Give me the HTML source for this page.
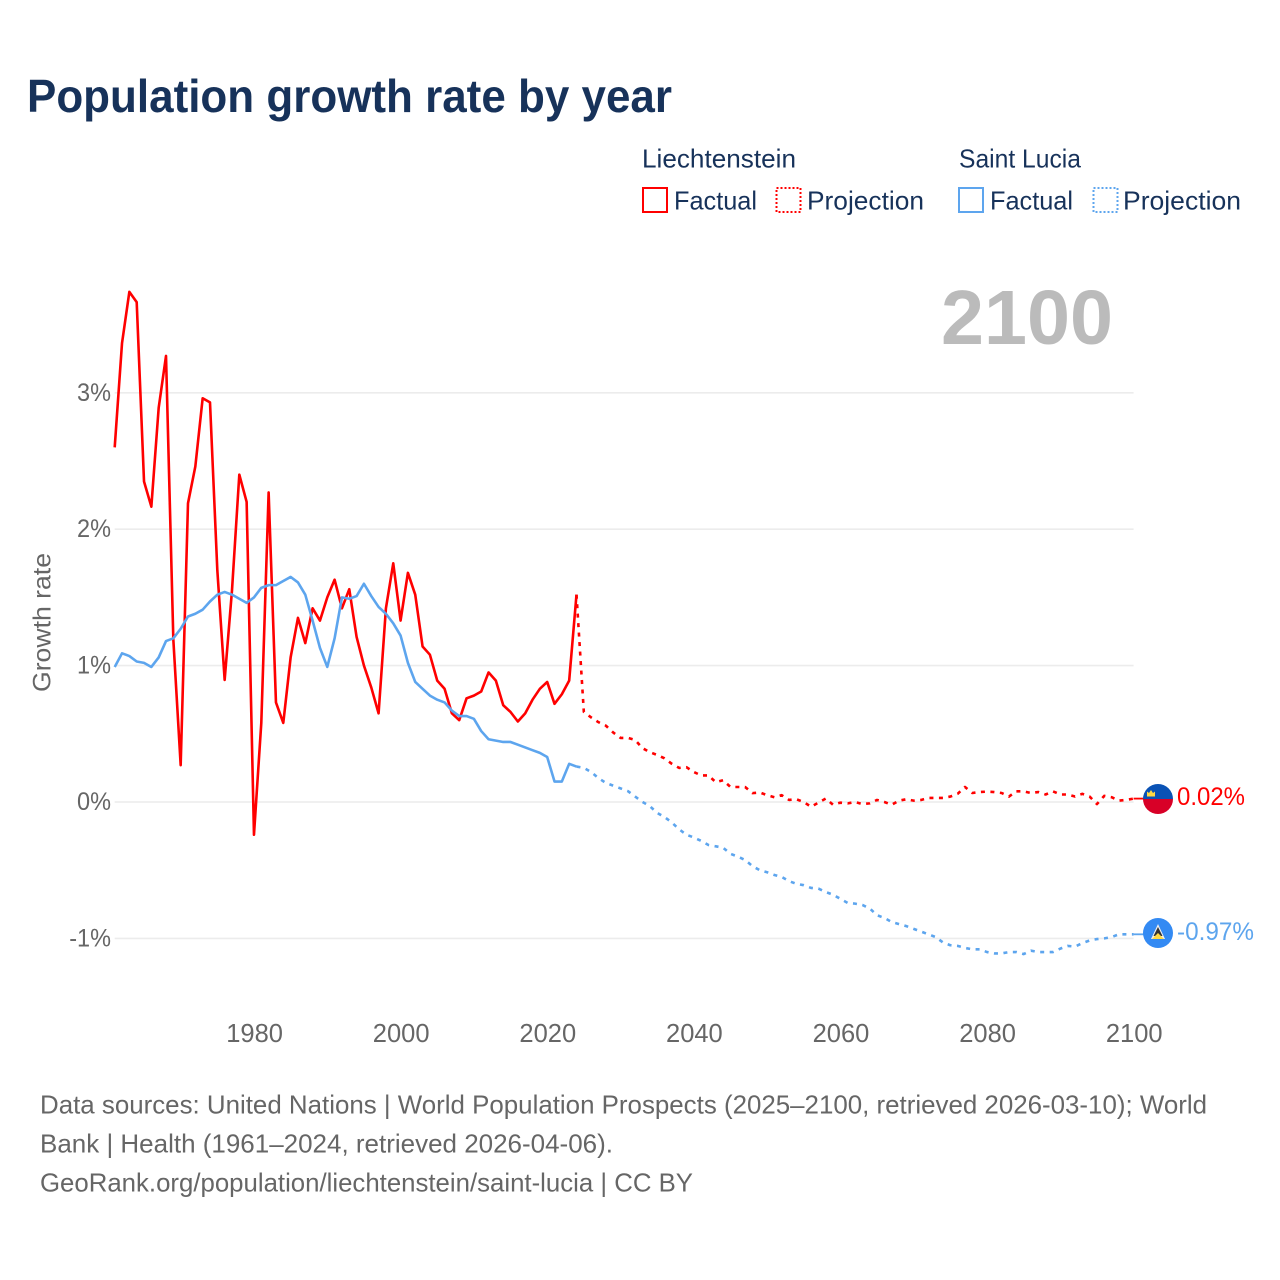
<!DOCTYPE html>
<html lang="en">
<head>
<meta charset="utf-8">
<title>Population growth rate by year</title>
<style>
html,body{margin:0;padding:0;background:#fff;}
svg{display:block;}
text{font-family:"Liberation Sans",sans-serif;}
</style>
</head>
<body>
<svg id="chart" width="1280" height="1280" viewBox="0 0 1280 1280" xmlns="http://www.w3.org/2000/svg">
  <rect x="0" y="0" width="1280" height="1280" fill="#ffffff"/>
  <text x="27" y="112" font-size="46" font-weight="700" fill="#17325a" textLength="645" lengthAdjust="spacingAndGlyphs">Population growth rate by year</text>

  <g font-size="26" fill="#17325a">
    <text x="642" y="167.500" textLength="154" lengthAdjust="spacingAndGlyphs">Liechtenstein</text>
    <text x="959" y="167.500" textLength="122" lengthAdjust="spacingAndGlyphs">Saint Lucia</text>
    <rect x="643" y="188" width="24" height="24" fill="none" stroke="#ff0000" stroke-width="2"/>
    <text x="674" y="209.500" textLength="83" lengthAdjust="spacingAndGlyphs">Factual</text>
    <rect x="776.500" y="188" width="24" height="24" fill="none" stroke="#ff0000" stroke-width="2" stroke-dasharray="2 2"/>
    <text x="807" y="209.500" textLength="117" lengthAdjust="spacingAndGlyphs">Projection</text>
    <rect x="959" y="188" width="24" height="24" fill="none" stroke="#5da5ee" stroke-width="2"/>
    <text x="990" y="209.500" textLength="83" lengthAdjust="spacingAndGlyphs">Factual</text>
    <rect x="1093.500" y="188" width="24" height="24" fill="none" stroke="#5da5ee" stroke-width="2" stroke-dasharray="2 2"/>
    <text x="1123" y="209.500" textLength="118" lengthAdjust="spacingAndGlyphs">Projection</text>
  </g>

  <text x="941" y="344" font-size="77" font-weight="700" fill="#bbbbbb" textLength="172" lengthAdjust="spacingAndGlyphs">2100</text>

  <g id="grid"></g>
  <g id="yticks"></g>
  <g id="xticks"></g>
  <text transform="translate(50.500,622.500) rotate(-90)" text-anchor="middle" font-size="25" fill="#666666" textLength="139" lengthAdjust="spacingAndGlyphs">Growth rate</text>

  <g id="series"></g>

  <g>
    <path d="M1143 799a15 15 0 0 1 30 0z" fill="#0a52b5"/>
    <path d="M1143 799a15 15 0 0 0 30 0z" fill="#d80027"/>
    <path d="M1147 796.500v-5l2 1.500 2-3 2 3 2-1.500v5z" fill="#ffda44"/>
  </g>
  <g>
    <circle cx="1158" cy="933" r="15" fill="#338af3"/>
    <path d="M1158 924l7 15h-14z" fill="#f0f0f0"/>
    <path d="M1158 927l4.500 9h-9z" fill="#333333"/>
    <path d="M1158 933l6 6h-12z" fill="#ffda44"/>
  </g>
  <text id="label-a" x="1177" y="805" font-size="25" fill="#ff0000" textLength="68" lengthAdjust="spacingAndGlyphs"></text>
  <text id="label-b" x="1177" y="940" font-size="25" fill="#5da5ee" textLength="77" lengthAdjust="spacingAndGlyphs"></text>

  <g font-size="26" fill="#666666">
    <text x="40" y="1113.500" textLength="1167" lengthAdjust="spacingAndGlyphs">Data sources: United Nations | World Population Prospects (2025–2100, retrieved 2026-03-10); World</text>
    <text x="40" y="1152.500" textLength="573" lengthAdjust="spacingAndGlyphs">Bank | Health (1961–2024, retrieved 2026-04-06).</text>
    <text x="40" y="1191.500" textLength="653" lengthAdjust="spacingAndGlyphs">GeoRank.org/population/liechtenstein/saint-lucia | CC BY</text>
  </g>
</svg>
<script>
const factualYears = [1961,1962,1963,1964,1965,1966,1967,1968,1969,1970,1971,1972,1973,1974,1975,1976,1977,1978,1979,1980,1981,1982,1983,1984,1985,1986,1987,1988,1989,1990,1991,1992,1993,1994,1995,1996,1997,1998,1999,2000,2001,2002,2003,2004,2005,2006,2007,2008,2009,2010,2011,2012,2013,2014,2015,2016,2017,2018,2019,2020,2021,2022,2023,2024];
const projectionYears = [2024,2025,2026,2027,2028,2029,2030,2031,2032,2033,2034,2035,2036,2037,2038,2039,2040,2041,2042,2043,2044,2045,2046,2047,2048,2049,2050,2051,2052,2053,2054,2055,2056,2057,2058,2059,2060,2061,2062,2063,2064,2065,2066,2067,2068,2069,2070,2071,2072,2073,2074,2075,2076,2077,2078,2079,2080,2081,2082,2083,2084,2085,2086,2087,2088,2089,2090,2091,2092,2093,2094,2095,2096,2097,2098,2099,2100];
const liechtensteinFactual = [2.60,3.365,3.74,3.665,2.35,2.165,2.89,3.27,1.19,0.27,2.19,2.46,2.96,2.93,1.70,0.895,1.55,2.40,2.20,-0.24,0.58,2.27,0.73,0.58,1.06,1.35,1.165,1.42,1.33,1.50,1.63,1.42,1.56,1.21,1.00,0.84,0.65,1.42,1.75,1.33,1.68,1.52,1.14,1.08,0.89,0.83,0.65,0.60,0.76,0.78,0.81,0.95,0.89,0.71,0.66,0.59,0.65,0.75,0.83,0.88,0.72,0.79,0.89,1.52];
const saintLuciaFactual = [0.99,1.09,1.07,1.03,1.02,0.99,1.06,1.18,1.20,1.27,1.36,1.38,1.41,1.47,1.52,1.54,1.52,1.49,1.46,1.50,1.57,1.59,1.59,1.62,1.65,1.61,1.52,1.33,1.13,0.99,1.20,1.50,1.49,1.51,1.60,1.51,1.43,1.38,1.31,1.22,1.02,0.88,0.83,0.78,0.75,0.73,0.67,0.63,0.63,0.61,0.52,0.46,0.45,0.44,0.44,0.42,0.40,0.38,0.36,0.33,0.15,0.15,0.28,0.26];
const liechtensteinProjection = [1.52,0.66,0.62,0.585,0.56,0.51,0.47,0.47,0.455,0.395,0.365,0.345,0.32,0.28,0.25,0.255,0.22,0.195,0.195,0.145,0.16,0.11,0.11,0.11,0.065,0.07,0.05,0.035,0.05,0.015,0.02,0.0,-0.035,-0.005,0.025,-0.02,-0.005,-0.01,0.0,-0.015,-0.01,0.015,0.0,-0.02,0.01,0.02,0.01,0.015,0.03,0.03,0.03,0.04,0.06,0.11,0.066,0.073,0.076,0.073,0.066,0.04,0.078,0.078,0.066,0.073,0.055,0.078,0.055,0.055,0.04,0.06,0.04,-0.015,0.045,0.035,0.01,0.015,0.025];
const saintLuciaProjection = [0.26,0.25,0.22,0.175,0.14,0.12,0.10,0.08,0.04,0.0,-0.03,-0.08,-0.11,-0.15,-0.20,-0.24,-0.26,-0.285,-0.315,-0.325,-0.335,-0.38,-0.40,-0.425,-0.47,-0.50,-0.515,-0.535,-0.55,-0.58,-0.60,-0.61,-0.63,-0.635,-0.66,-0.68,-0.71,-0.74,-0.745,-0.755,-0.78,-0.83,-0.85,-0.88,-0.895,-0.91,-0.93,-0.95,-0.97,-0.99,-1.03,-1.05,-1.055,-1.07,-1.08,-1.08,-1.10,-1.11,-1.11,-1.10,-1.10,-1.115,-1.09,-1.10,-1.10,-1.10,-1.075,-1.055,-1.06,-1.035,-1.015,-1.005,-1.00,-0.99,-0.97,-0.97,-0.97];
const yTickValues = [-1,0,1,2,3];
const yTickLabels = ["-1%","0%","1%","2%","3%"];
const xTickValues = [1980,2000,2020,2040,2060,2080,2100];
const xTickLabels = ["1980","2000","2020","2040","2060","2080","2100"];
const endValueLabels = ["0.02%","-0.97%"];

const NS = "http://www.w3.org/2000/svg";
function xScale(year){ return 114.7 + (year - 1961) * (1133.6 - 114.7) / (2100 - 1961); }
function yScale(value){ return 802 - value * 136.4; }

function make(parent, tag, attrs){
  const el = document.createElementNS(NS, tag);
  for (const k in attrs) el.setAttribute(k, attrs[k]);
  parent.appendChild(el);
  return el;
}

const gridGroup = document.getElementById("grid");
const yGroup = document.getElementById("yticks");
const xGroup = document.getElementById("xticks");
const seriesGroup = document.getElementById("series");

yTickValues.forEach(function(v, i){
  const line = make(gridGroup, "line", {x1: 114.7, x2: 1133.6, y1: yScale(v), y2: yScale(v), stroke: "#ececec", "stroke-width": 1.6});
  
  
  const t = make(yGroup, "text", {x: 111, y: yScale(v) + 8, "text-anchor": "end", "font-size": 25, fill: "#666666"});
  
  
  t.textContent = yTickLabels[i];
  t.setAttribute("textLength", (t.getComputedTextLength() * 0.94).toFixed(1));
  t.setAttribute("lengthAdjust", "spacingAndGlyphs");
});

xTickValues.forEach(function(v, i){
  const t = make(xGroup, "text", {x: xScale(v) + 0.6, y: 1042, "text-anchor": "middle", "font-size": 25.5, fill: "#666666"});
  
  
  t.textContent = xTickLabels[i];
});

function drawLine(years, values, color, dashed, name){
  const pts = years.map(function(y, i){ return xScale(y).toFixed(2) + "," + yScale(values[i]).toFixed(2); }).join(" ");
  const attrs = {points: pts, fill: "none", stroke: color, "stroke-width": 2.6, "stroke-linejoin": "round"};
  if (dashed) attrs["stroke-dasharray"] = "4 5.5";
  const el = make(seriesGroup, "polyline", attrs);
  
  
}

function drawConnector(year, value, color, name){
  const el = make(seriesGroup, "line", {x1: xScale(year), y1: yScale(value), x2: 1144, y2: yScale(value), stroke: color, "stroke-width": 1.8});
  
  
}

drawLine(factualYears, liechtensteinFactual, "#ff0000", false, "line-liechtenstein-factual");
drawLine(factualYears, saintLuciaFactual, "#5da5ee", false, "line-saint-lucia-factual");
drawLine(projectionYears, liechtensteinProjection, "#ff0000", true, "line-liechtenstein-projection");
drawLine(projectionYears, saintLuciaProjection, "#5da5ee", true, "line-saint-lucia-projection");
drawConnector(2100, liechtensteinProjection[liechtensteinProjection.length - 1], "#ff0000", "connector-liechtenstein");
drawConnector(2100, saintLuciaProjection[saintLuciaProjection.length - 1], "#5da5ee", "connector-saint-lucia");

document.getElementById("label-a").textContent = endValueLabels[0];
document.getElementById("label-b").textContent = endValueLabels[1];
</script>
</body>
</html>
